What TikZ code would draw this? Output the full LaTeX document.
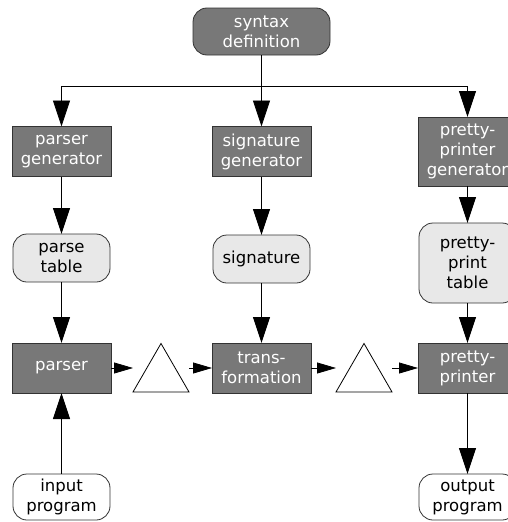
\documentclass[tikz,border=0pt]{standalone}
\usepackage{fontspec}
\setmainfont{DejaVu Sans}
\usepackage{tikz}
\usetikzlibrary{arrows.meta,shapes.geometric}

\begin{document}
\begin{tikzpicture}[x=1pt, y=-1pt,
	box/.style={rectangle, draw=black!80, line width=0.8pt,
				inner sep=0pt, outer sep=0pt, align=center,
				font=\fontsize{16.5}{20}\selectfont},
	tool/.style={box, fill=black!53, text=white,
				minimum width=99pt, minimum height=50pt},
	data/.style={box, rounded corners=14pt, fill=black!9,
				minimum width=97pt, minimum height=48pt},
	io/.style={box, rounded corners=14pt, fill=white,
				minimum width=97pt, minimum height=46pt},
	gap/.style={regular polygon, regular polygon sides=3, draw=black,
				line width=0.8pt, minimum size=64.66pt, inner sep=0pt, outer sep=0pt},
	>={Triangle[length=26pt,width=17pt]}, every path/.style={line width=0.8pt},
	small/.style={-{Triangle[length=19pt,width=11pt]}}]

	\useasboundingbox (0,0) rectangle (507,522);

	% top
	\node[tool, rounded corners=14pt, minimum width=137pt, minimum height=47pt]
		(syn) at (261.5,31.5) {syntax\\definition};
	\coordinate (fork) at (261.5,86);

	% generators
	\node[tool] (pgen) at (61.5,151.5) {parser\\generator};
	\node[tool] (sgen) at (261.5,151.5) {signature\\generator};
	\node[tool, minimum height=69pt] (ppgen) at (467.5,151.5) {pretty-\\printer\\generator};

	% tables
	\node[data] (ptab) at (61.5,258) {parse\\table};
	\node[data] (sig) at (261.5,259) {signature};
	\node[data, minimum height=80pt] (pptab) at (467.5,263) {pretty-\\print\\table};

	% tools
	\node[tool] (parser) at (61.5,368) {parser};
	\node[gap] (tri1) at (161,375.8) {};
	\node[tool] (trans) at (261.5,368) {trans-\\formation};
	\node[gap] (tri2) at (364,375.8) {};
	\node[tool] (pp) at (467.5,368) {pretty-\\printer};

	% programs
	\node[io] (in) at (61.5,497) {input\\program};
	\node[io] (out) at (467.5,497) {output\\program};

	\draw[->] (syn) -- (sgen);
	\draw[->] (fork) -| (pgen);
	\draw[->] (fork) -| (ppgen);

	\draw[->] (pgen) -- (ptab);
	\draw[->] (sgen) -- (sig);
	\draw[->] (ppgen) -- (pptab);

	\draw[->] (ptab) -- (parser);
	\draw[->] (sig) -- (trans);
	\draw[->] (pptab) -- (pp);

	\draw[->] (in) -- (parser);
	\draw[->] (pp) -- (out);

	\draw[small] (parser) -- (parser -| tri1.corner 2);
	\draw[small] (tri1.corner 3 |- trans) -- (trans);
	\draw[small] (trans) -- (trans -| tri2.corner 2);
	\draw[small] (tri2.corner 3 |- pp) -- (pp);
\end{tikzpicture}
\end{document}
